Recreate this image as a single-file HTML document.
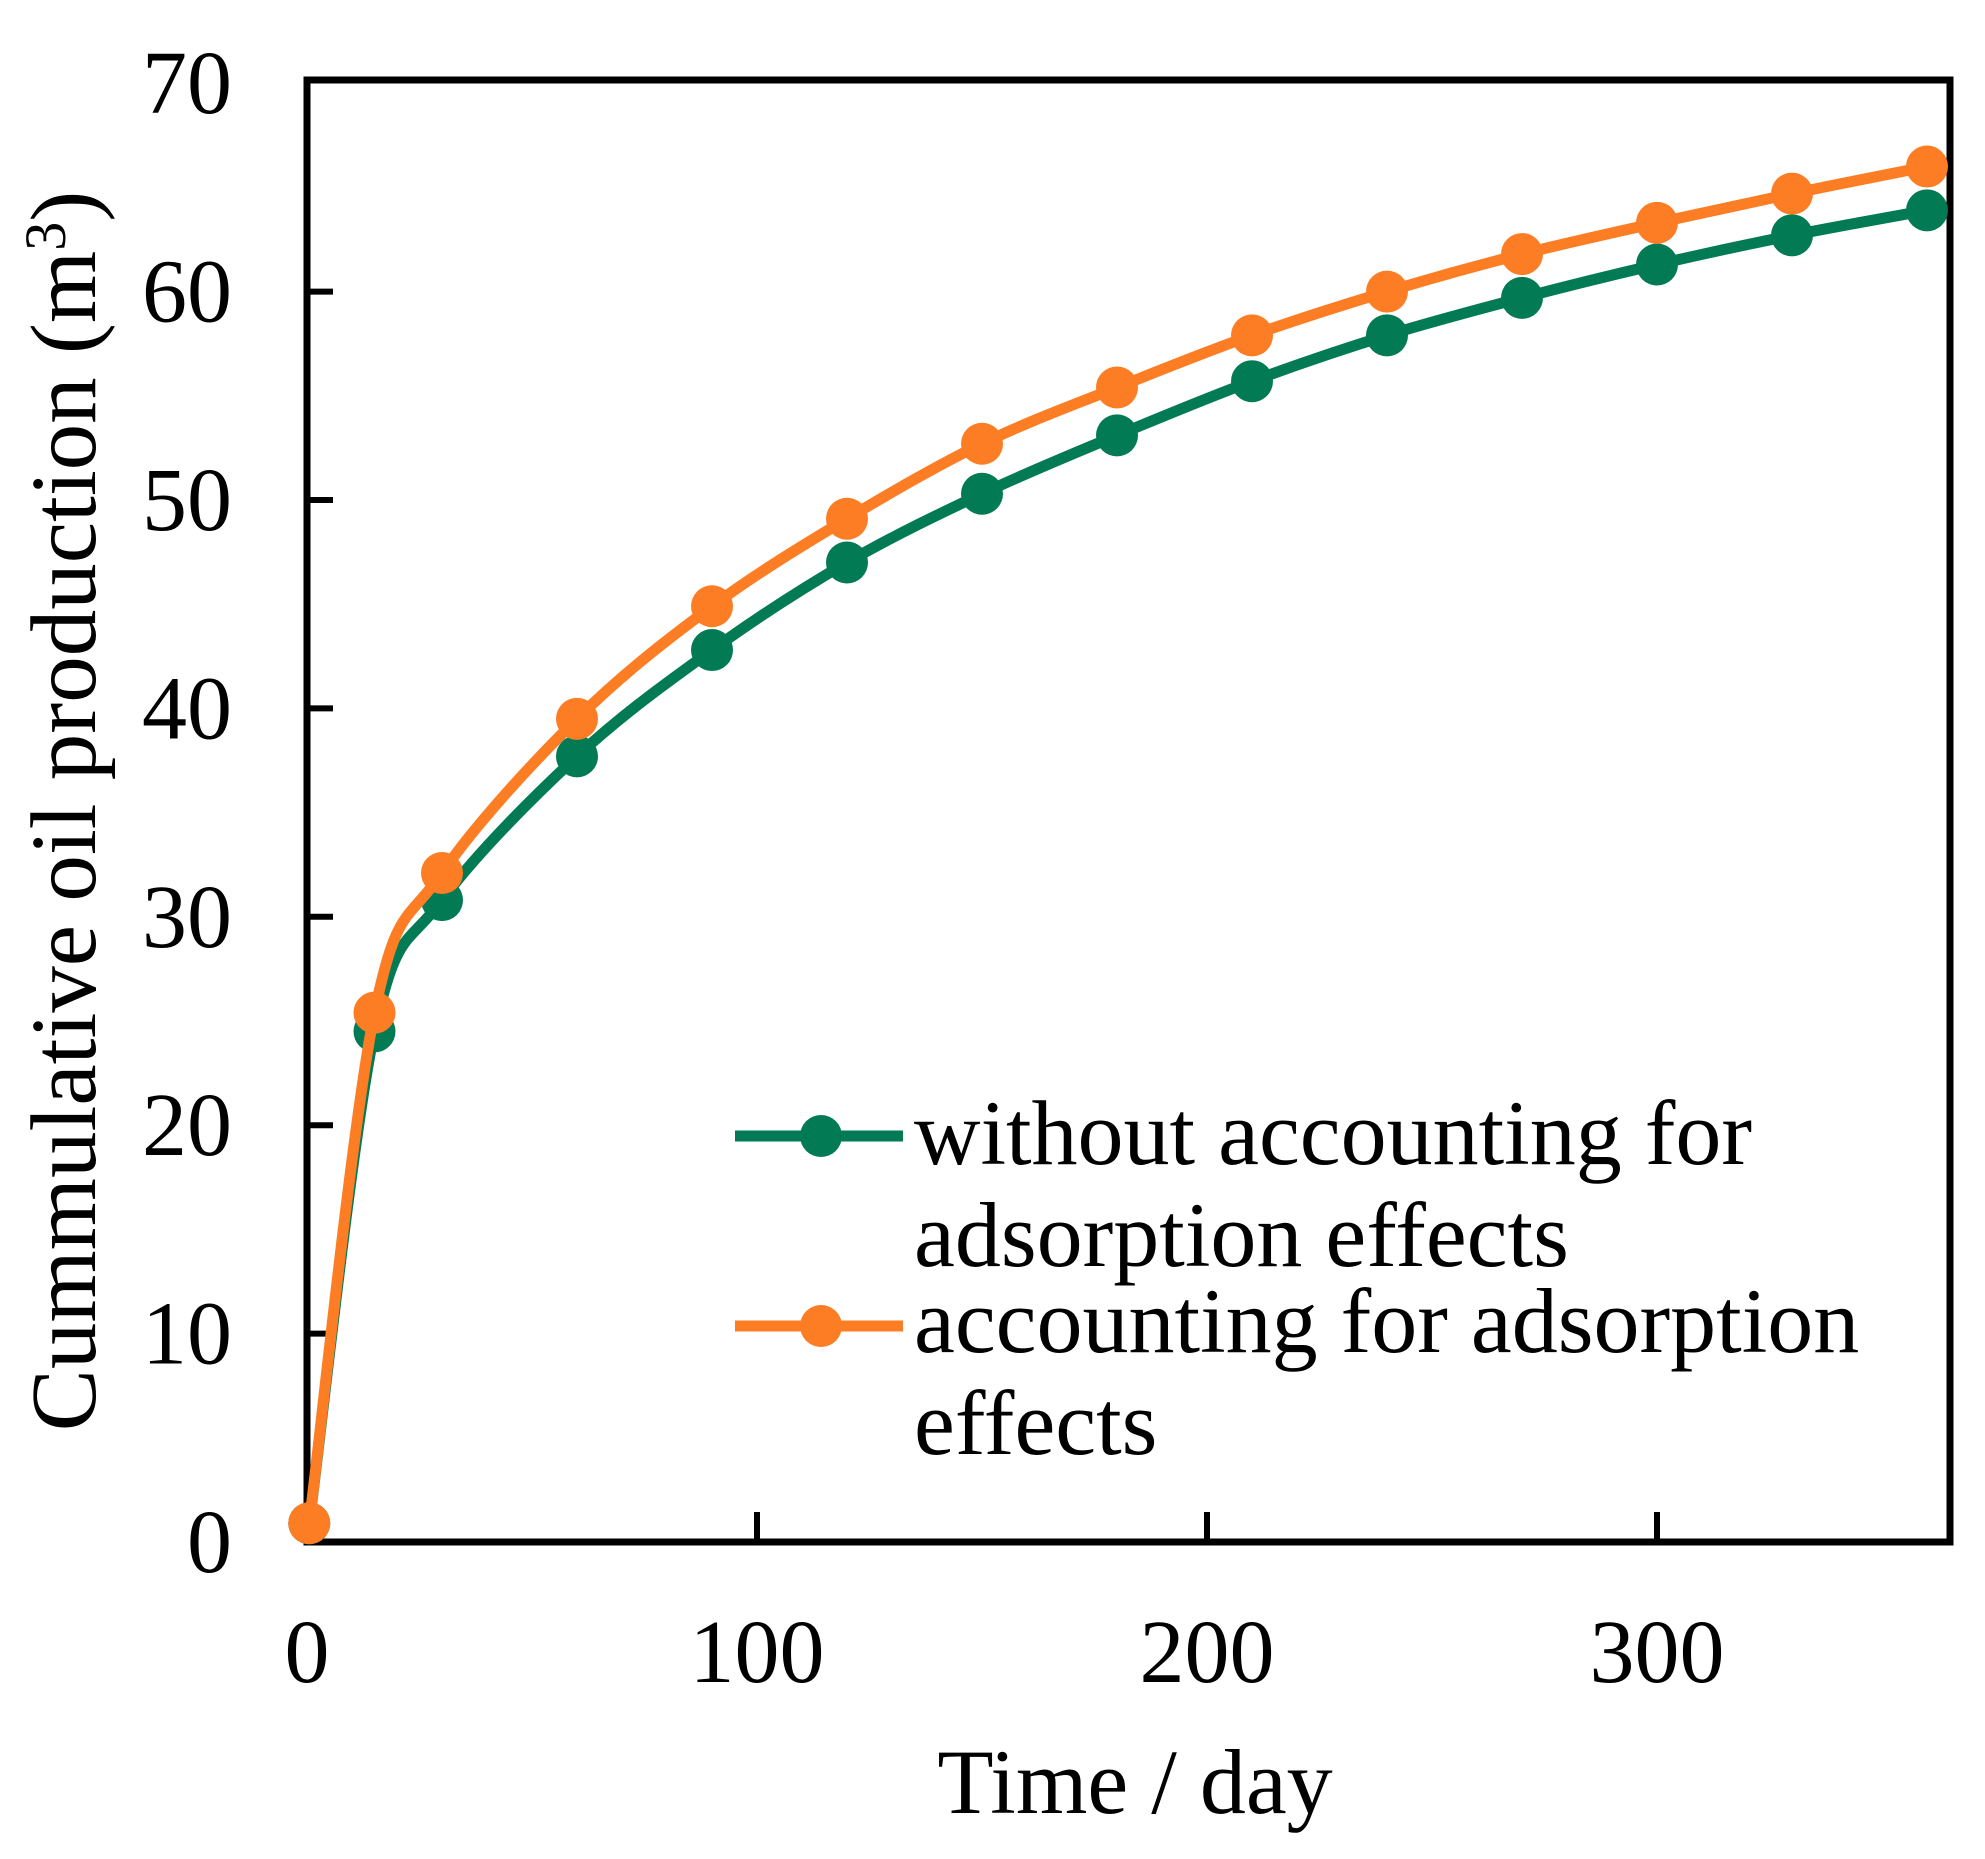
<!DOCTYPE html>
<html><head><meta charset="utf-8"><style>
html,body{margin:0;padding:0;background:#fff;}
svg{display:block;font-family:"Liberation Serif",serif;}
</style></head><body>
<svg id="chart" width="1985" height="1859" viewBox="0 0 1985 1859">
<g id="grid"></g>
<g id="series"></g>
<g id="legend"></g>
</svg>
<script>
const days = [0.5, 15, 30, 60, 90, 120, 150, 180, 210, 240, 270, 300, 330, 360];
const withoutAdsorption = [0.9, 24.5, 30.8, 37.7, 42.8, 47.0, 50.3, 53.1, 55.7, 57.9, 59.7, 61.3, 62.7, 63.9];
const withAdsorption = [0.9, 25.4, 32.1, 39.5, 44.9, 49.1, 52.7, 55.4, 57.9, 60.0, 61.8, 63.3, 64.7, 66.0];
const xTicks = [0, 100, 200, 300];
const yTicks = [0, 10, 20, 30, 40, 50, 60, 70];
const legendLabels = [["without accounting for","adsorption effects"],["accounting for adsorption","effects"]];

const NS = "http://www.w3.org/2000/svg";
const X0 = 307, XS = 4.5, Y0 = 1542, YS = 20.84;
const xp = v => X0 + v * XS;
const yp = v => Y0 - v * YS;
function mk(tag, attrs, parent) {
  const e = document.createElementNS(NS, tag);
  for (const k in attrs) e.setAttribute(k, attrs[k]);
  parent.appendChild(e);
  return e;
}
const grid = document.getElementById('grid');
const ser = document.getElementById('series');
const leg = document.getElementById('legend');

const frame = mk('rect', {x:307, y:80, width:1643, height:1462, fill:'none', stroke:'#000', 'stroke-width':7}, grid);



yTicks.forEach(t => {
  if (t > 0 && t < 70) {
    const l = mk('line', {x1:307, x2:333, y1:yp(t), y2:yp(t), stroke:'#000', 'stroke-width':6}, grid);
    
    
  }
  const tx = mk('text', {x:232, y:yp(t)+30, 'font-size':90, 'text-anchor':'end', fill:'#000'}, grid);
  tx.textContent = t;
  
  
});
xTicks.forEach(t => {
  if (t > 0) {
    const l = mk('line', {x1:xp(t), x2:xp(t), y1:1542, y2:1512, stroke:'#000', 'stroke-width':6}, grid);
    
    
  }
  const tx = mk('text', {x:xp(t), y:1682, 'font-size':90, 'text-anchor':'middle', fill:'#000'}, grid);
  tx.textContent = t;
  
  
});
const xt = mk('text', {x:1135, y:1813, 'font-size':92, 'text-anchor':'middle', fill:'#000'}, grid);
xt.textContent = 'Time / day';


const yt = mk('text', {x:0, y:0, 'font-size':93, 'text-anchor':'middle', fill:'#000', transform:'translate(95,811) rotate(-90)'}, grid);
yt.innerHTML = 'Cummulative oil production (m<tspan dy="-30" font-size="58">3</tspan><tspan dy="30">)</tspan>';



function smoothPath(xs, ys) {
  const p = xs.map((x, i) => [xp(x), yp(ys[i])]);
  let d = `M${p[0][0]},${p[0][1]}`;
  for (let i = 0; i < p.length - 1; i++) {
    const p0 = p[Math.max(0, i-1)], p1 = p[i], p2 = p[i+1], p3 = p[Math.min(p.length-1, i+2)];
    const t = 1/6;
    const c1 = [p1[0] + (p2[0]-p0[0])*t, p1[1] + (p2[1]-p0[1])*t];
    const c2 = [p2[0] - (p3[0]-p1[0])*t, p2[1] - (p3[1]-p1[1])*t];
    d += ` C${c1[0]},${c1[1]} ${c2[0]},${c2[1]} ${p2[0]},${p2[1]}`;
  }
  return d;
}
function drawSeries(vals, color, name) {
  const g = mk('g', {}, ser);
  
  
  const path = mk('path', {d:smoothPath(days, vals), fill:'none', stroke:color, 'stroke-width':11, 'stroke-linejoin':'round'}, g);
  
  
  vals.forEach((v, i) => {
    const c = mk('circle', {cx:xp(days[i]), cy:yp(v), r:21, fill:color}, g);
    
    
  });
}
const GREEN = '#027a53', ORANGE = '#fd7d24';
drawSeries(withoutAdsorption, GREEN, 'series-without-adsorption');
drawSeries(withAdsorption, ORANGE, 'series-with-adsorption');

[[GREEN, 1136, 1164], [ORANGE, 1326, 1352]].forEach((e, i) => {
  const g = mk('g', {}, leg);
  
  
  mk('line', {x1:735, x2:903, y1:e[1], y2:e[1], stroke:e[0], 'stroke-width':11}, g);
  mk('circle', {cx:821, cy:e[1], r:21, fill:e[0]}, g);
  legendLabels[i].forEach((s, j) => {
    const t = mk('text', {x:914, y:e[2] + j*102, 'font-size':92, fill:'#000'}, g);
    t.textContent = s;
    
    
  });
});
</script>
</body></html>
